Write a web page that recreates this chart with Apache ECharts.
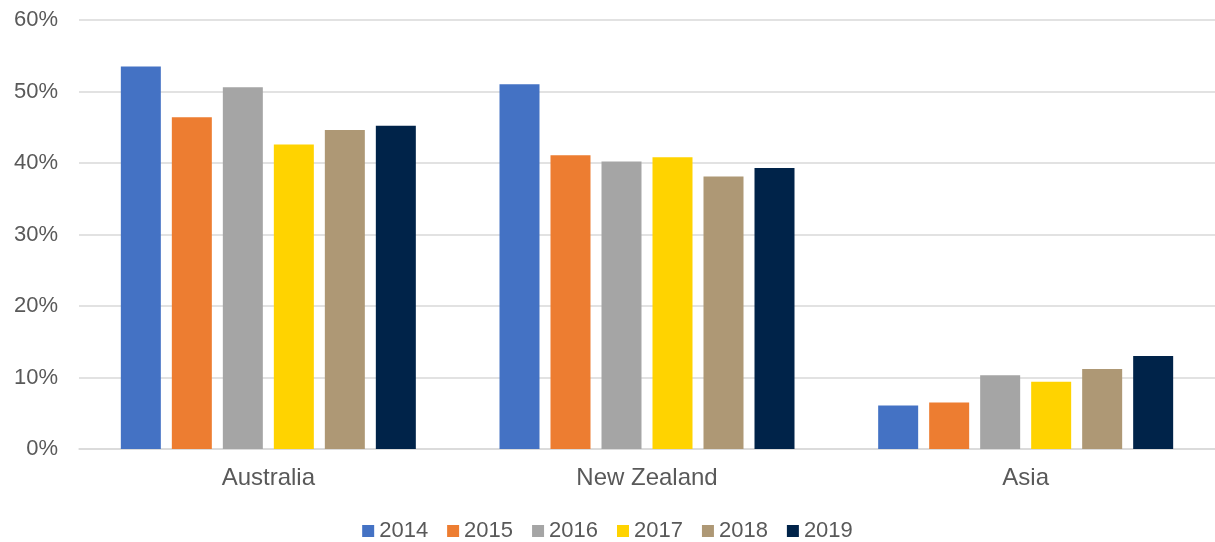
<!DOCTYPE html>
<html>
<head>
<meta charset="utf-8">
<script src="https://cdn.jsdelivr.net/npm/echarts@6/dist/echarts.min.js"></script>
<style>
  html, body { margin: 0; padding: 0; background: #fff; }
  #chart { width: 1215px; height: 542px; }
</style>
</head>
<body>
<div id="chart"></div>
<script>
// regions on the x axis
var regions = ["Australia", "New Zealand", "Asia"];
var years = ["2014", "2015", "2016", "2017", "2018", "2019"];
var yearColors = ["#4472C4", "#ED7D31", "#A5A5A5", "#FFD300", "#AE9875", "#002349"];

// share (%) per year, in region order
var y2014 = [53.5, 51.0, 6.1];
var y2015 = [46.4, 41.1, 6.5];
var y2016 = [50.6, 40.2, 10.3];
var y2017 = [42.6, 40.8, 9.4];
var y2018 = [44.6, 38.1, 11.2];
var y2019 = [45.2, 39.3, 13.0];
var yearValues = [y2014, y2015, y2016, y2017, y2018, y2019];

var textColor = "#595959";
var font = "Liberation Sans, Arial, sans-serif";

var chart = echarts.init(document.getElementById("chart"));

var series = years.map(function (y, i) {
  return {
    name: y,
    type: "bar",
    data: yearValues[i],
    barWidth: 40,
    barGap: "27.5%",
    itemStyle: { color: yearColors[i] }
  };
});

chart.setOption({
  animation: false,
  color: yearColors,
  grid: { left: 79, right: 0, top: 20, bottom: 93 },
  legend: {
    data: years,
    left: "center",
    top: 515,
    icon: "rect",
    itemWidth: 12,
    itemHeight: 12,
    itemGap: 19,
    textStyle: { color: textColor, fontSize: 22, fontFamily: font }
  },
  xAxis: {
    type: "category",
    data: regions,
    axisLine: { lineStyle: { color: "#d9d9d9", width: 1.5 } },
    axisTick: { show: false },
    axisLabel: { color: textColor, fontSize: 24, fontFamily: font, margin: 17 }
  },
  yAxis: {
    type: "value",
    min: 0,
    max: 60,
    interval: 10,
    axisLine: { show: false },
    axisTick: { show: false },
    splitLine: { lineStyle: { color: "#d9d9d9", width: 1.5 } },
    axisLabel: {
      color: textColor,
      fontSize: 22,
      fontFamily: font,
      margin: 21,
      formatter: "{value}%"
    }
  },
  series: series
});
</script>
</body>
</html>
